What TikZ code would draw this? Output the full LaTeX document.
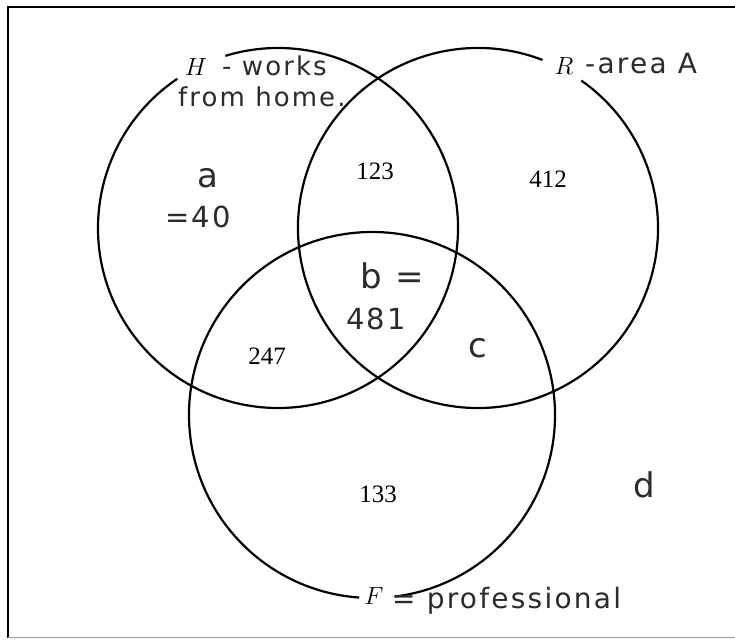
\documentclass[tikz,border=0pt]{standalone}
\usepackage{fontspec}
\setmainfont{Liberation Serif}
\newfontfamily\handfont{DejaVu Sans}[LetterSpace=8]
\usepackage{tikz}
\definecolor{inkgrey}{HTML}{2B2B2B}
\definecolor{scanedge}{HTML}{9C9C9C}

\begin{document}
\begin{tikzpicture}[x=1pt, y=1pt, every node/.style={inner sep=0pt},
  typed/.style={font=\fontsize{25}{30}\selectfont},
  hand/.style={font=\handfont\fontsize{26}{30}\selectfont, text=inkgrey},
  handnum/.style={font=\handfont\fontsize{29}{34}\selectfont, text=inkgrey},
  handbig/.style={font=\handfont\fontsize{34}{40}\selectfont, text=inkgrey},
  ring/.style={line width=2.2pt}]
  \useasboundingbox (0,0) rectangle (735,639);
  % frame of the scan
  \draw[line width=2pt] (8,1) -- (8,632) -- (735,632);
  \draw[scanedge, line width=1pt] (8,2) -- (735,2);
  % the three sets
  \coordinate (cH) at (278,411);
  \coordinate (cR) at (478,411);
  \coordinate (cF) at (372,224);
  \draw[ring] (cH) ++(124:180) arc[start angle=124, end angle=467, radius=180];
  \draw[ring] (cR) ++(69:180) arc[start angle=69, end angle=415, radius=180];
  \draw[ring] (cF) ++(277:183) arc[start angle=277, end angle=626, radius=183];
  % set names
  \node[typed] (nH) at (196,572) {$H$};
  \node[hand, anchor=west] (tH1) at (222,573) {- works};
  \node[hand, anchor=west] (tH2) at (178,542) {from home.};
  \node[typed] (nR) at (564,573) {$R$};
  \node[hand, font=\handfont\fontsize{28}{32}\selectfont, anchor=west] (tR) at (585,575) {-area A};
  \node[typed] (nF) at (374,43) {$F$};
  \node[hand, font=\handfont\fontsize{28}{32}\selectfont, anchor=west] (tF) at (392,38) {= professional};
  % counts
  \node[typed] (n123) at (375,468) {123};
  \node[typed] (n412) at (548,460) {412};
  \node[typed] (n247) at (267,283) {247};
  \node[typed] (n133) at (378,145) {133};
  \node[handbig] (va) at (208,461) {a};
  \node[handnum] (v40) at (198,422) {=40};
  \node[handbig] (vb) at (392,363) {b =};
  \node[handnum] (v481) at (376,320) {481};
  \node[handbig] (vc) at (478,291) {c};
  \node[handbig] (vd) at (644,154) {d};
\end{tikzpicture}
\end{document}
